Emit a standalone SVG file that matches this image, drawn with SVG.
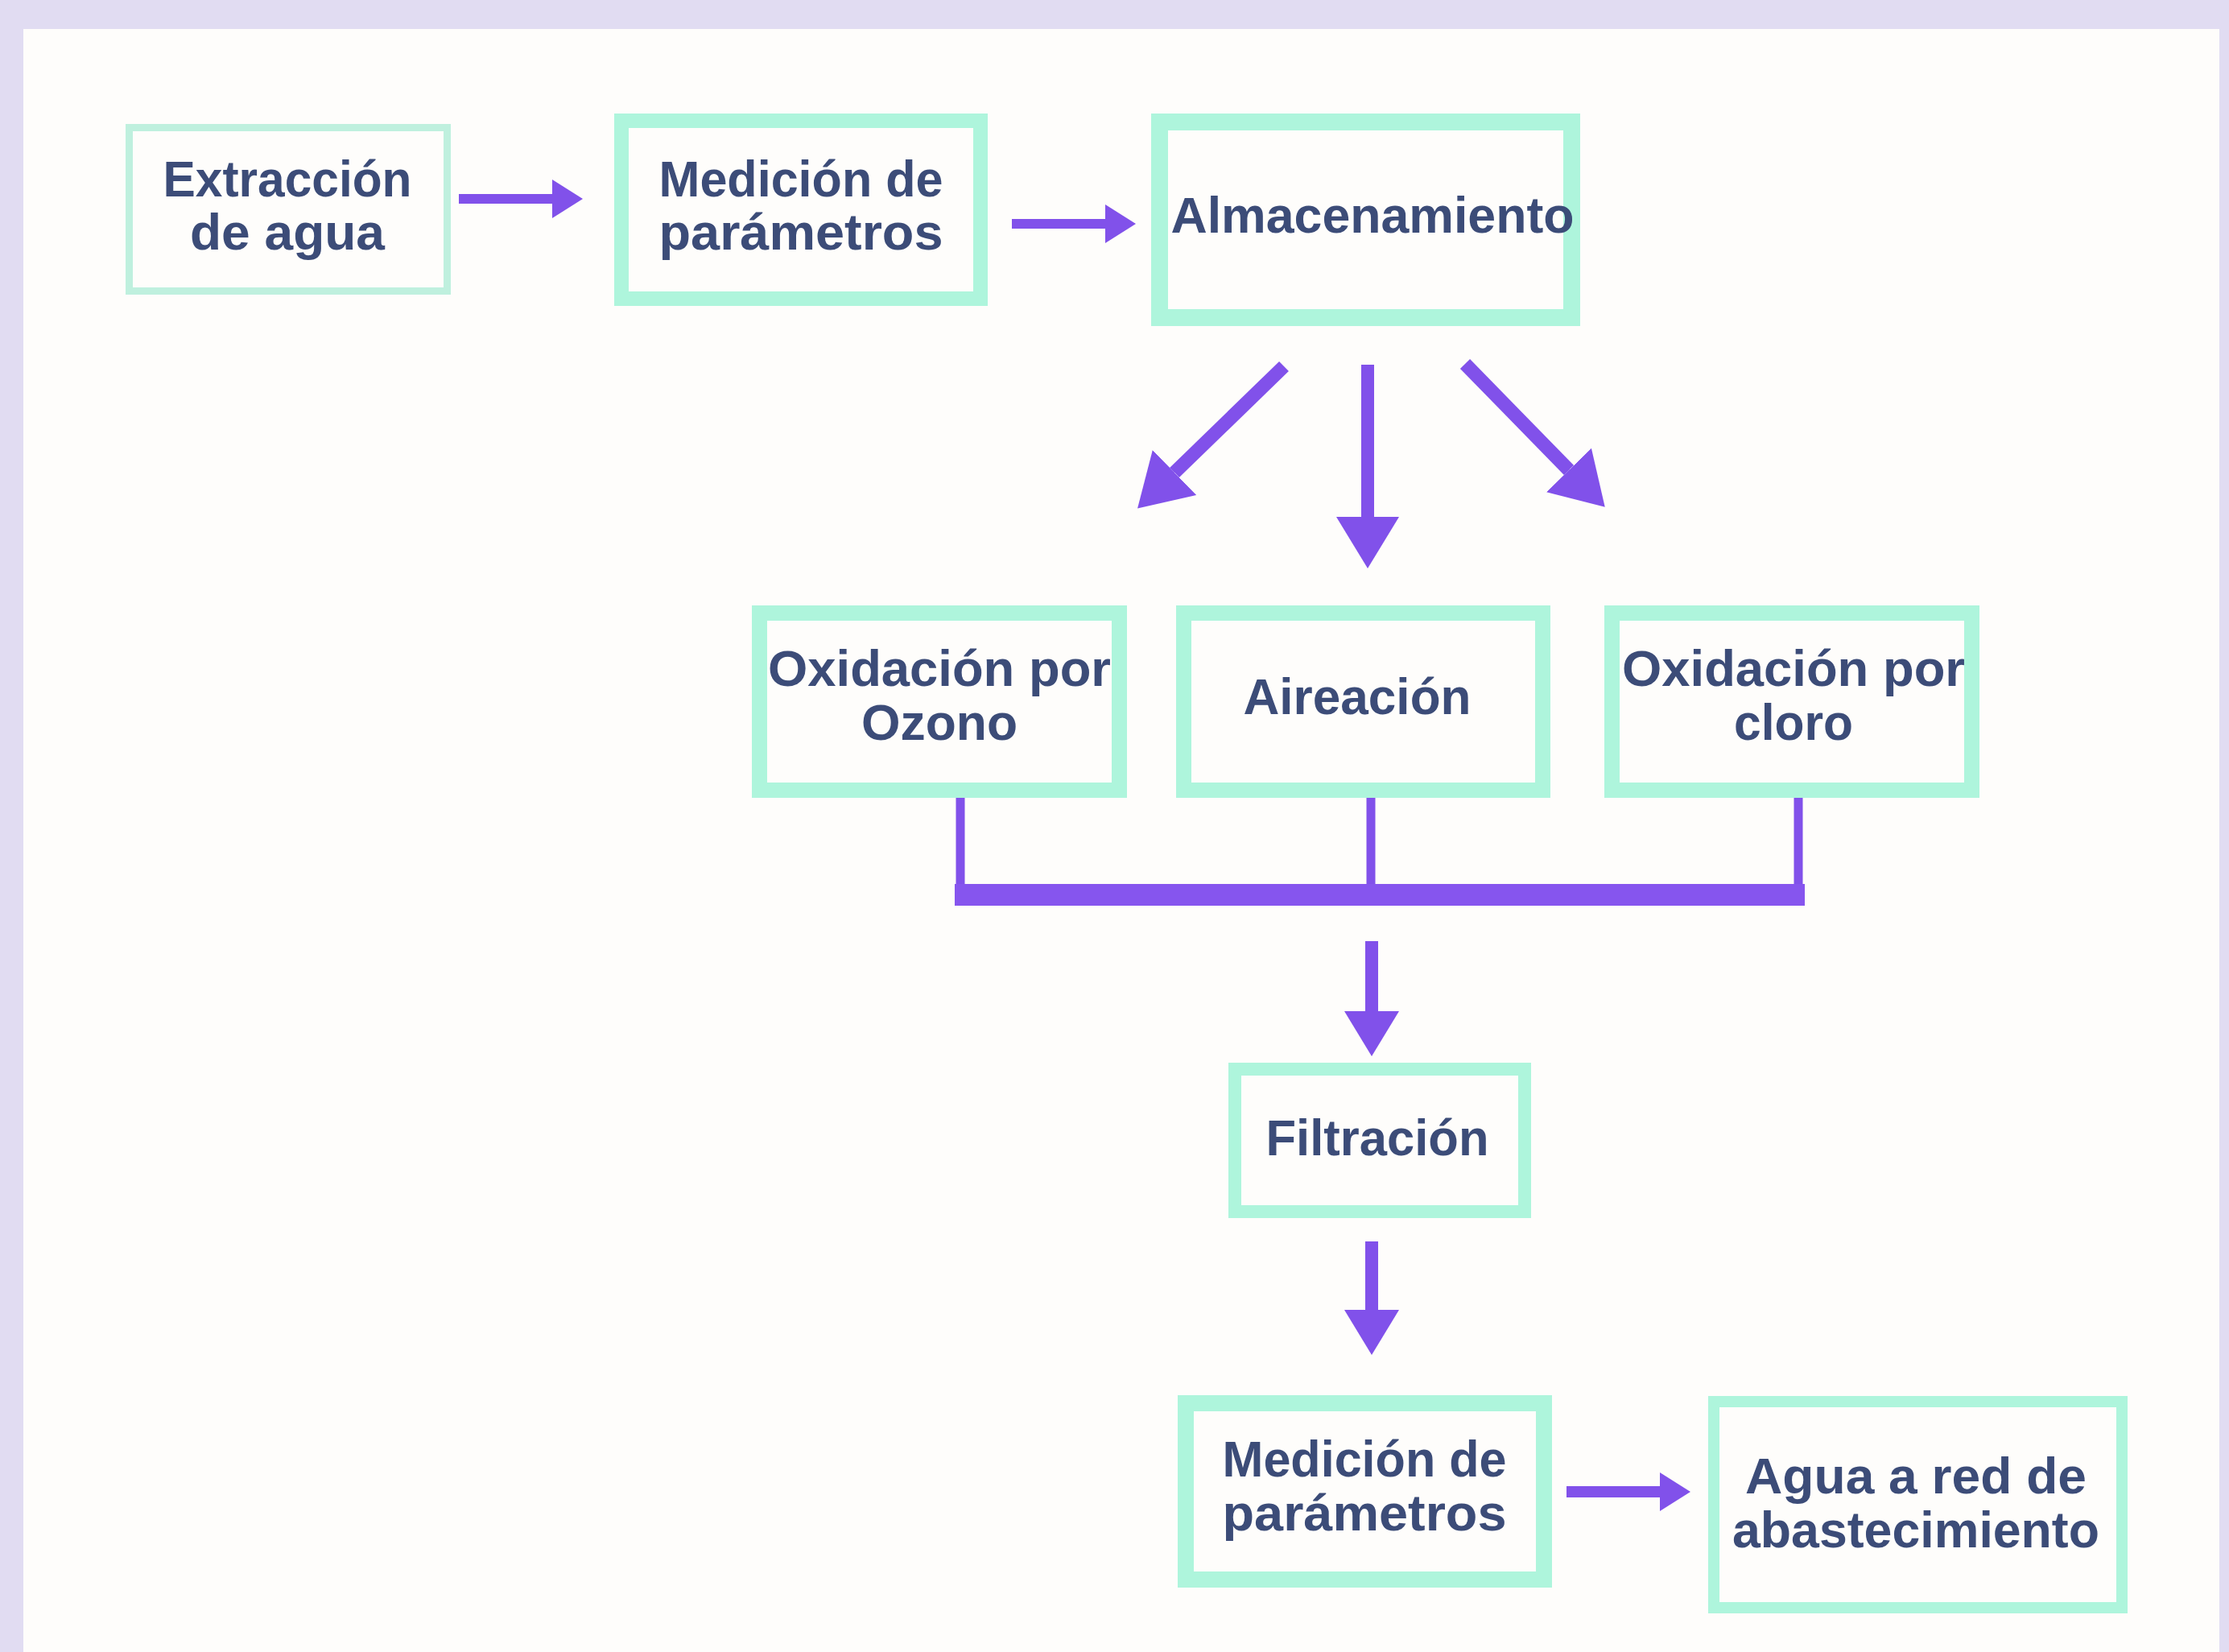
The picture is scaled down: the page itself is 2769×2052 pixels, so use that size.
<svg xmlns="http://www.w3.org/2000/svg" width="2769" height="2052" viewBox="0 0 2769 2052">
<defs>
<style>
.box{fill:#FEFDFB;stroke:#AEF5DC}
.lbl{font-family:"Liberation Sans",Arial,sans-serif;font-weight:700;font-size:63px;fill:#3C4C78;text-anchor:middle}
.arr{stroke:#8151EA;fill:none;stroke-linecap:butt}
.bar{fill:#8655EE}
</style>
<marker id="headL" markerUnits="userSpaceOnUse" viewBox="0 0 64 78" markerWidth="64" markerHeight="78" refX="0" refY="39" orient="auto"><path d="M0,0 L64,39 L0,78 Z" fill="#8151EA"/></marker>
<marker id="headM" markerUnits="userSpaceOnUse" viewBox="0 0 56 68" markerWidth="56" markerHeight="68" refX="0" refY="34" orient="auto"><path d="M0,0 L56,34 L0,68 Z" fill="#8151EA"/></marker>
<marker id="headS" markerUnits="userSpaceOnUse" viewBox="0 0 38 48" markerWidth="38" markerHeight="48" refX="0" refY="24" orient="auto"><path d="M0,0 L38,24 L0,48 Z" fill="#8151EA"/></marker>
</defs>
<rect x="0" y="0" width="2769" height="2052" fill="#E1DCF2"/>
<rect x="29" y="36" width="2728" height="2016" fill="#FEFDFB"/>

<g id="connectors">
<line class="arr" x1="570" y1="247" x2="686" y2="247" stroke-width="12" marker-end="url(#headS)"/>
<line class="arr" x1="1257" y1="278" x2="1373" y2="278" stroke-width="12" marker-end="url(#headS)"/>
<line class="arr" x1="1595" y1="455" x2="1459" y2="587" stroke-width="17" marker-end="url(#headL)"/>
<line class="arr" x1="1699" y1="453" x2="1699" y2="642" stroke-width="16" marker-end="url(#headL)"/>
<line class="arr" x1="1820" y1="452" x2="1949" y2="584" stroke-width="17" marker-end="url(#headL)"/>
<line class="arr" x1="1193" y1="991" x2="1193" y2="1100" stroke-width="11"/>
<line class="arr" x1="1703" y1="991" x2="1703" y2="1100" stroke-width="11"/>
<line class="arr" x1="2234" y1="991" x2="2234" y2="1100" stroke-width="11"/>
<rect class="bar" x="1186" y="1098" width="1056" height="27"/>
<line class="arr" x1="1704" y1="1169" x2="1704" y2="1256" stroke-width="16" marker-end="url(#headM)"/>
<line class="arr" x1="1704" y1="1542" x2="1704" y2="1627" stroke-width="16" marker-end="url(#headM)"/>
<line class="arr" x1="1946" y1="1853" x2="2062" y2="1853" stroke-width="14" marker-end="url(#headS)"/>
</g>

<g id="n-extraccion">
<rect class="box" x="160.5" y="158.5" width="395" height="203" stroke-width="9" style="stroke:#BFF0DE"/>
<text class="lbl" x="357" y="244" textLength="309" lengthAdjust="spacingAndGlyphs">Extracción</text>
<text class="lbl" x="357" y="310" textLength="242" lengthAdjust="spacingAndGlyphs">de agua</text>
</g>
<g id="n-medicion1">
<rect class="box" x="772" y="150" width="446" height="221" stroke-width="18"/>
<text class="lbl" x="995" y="244" textLength="353" lengthAdjust="spacingAndGlyphs">Medición de</text>
<text class="lbl" x="995" y="310" textLength="353" lengthAdjust="spacingAndGlyphs">parámetros</text>
</g>
<g id="n-almacenamiento">
<rect class="box" x="1440.5" y="151.5" width="512" height="243" stroke-width="21"/>
<text class="lbl" x="1705" y="289" textLength="501" lengthAdjust="spacingAndGlyphs">Almacenamiento</text>
</g>
<g id="n-ozono">
<rect class="box" x="943.5" y="761.5" width="447" height="220" stroke-width="19"/>
<text class="lbl" x="1167" y="852" textLength="426" lengthAdjust="spacingAndGlyphs">Oxidación por</text>
<text class="lbl" x="1167" y="919" textLength="194" lengthAdjust="spacingAndGlyphs">Ozono</text>
</g>
<g id="n-aireacion">
<rect class="box" x="1470.5" y="761.5" width="446" height="220" stroke-width="19"/>
<text class="lbl" x="1686" y="887" textLength="283" lengthAdjust="spacingAndGlyphs">Aireación</text>
</g>
<g id="n-cloro">
<rect class="box" x="2002.5" y="761.5" width="447" height="220" stroke-width="19"/>
<text class="lbl" x="2228" y="852" textLength="426" lengthAdjust="spacingAndGlyphs">Oxidación por</text>
<text class="lbl" x="2228" y="919" textLength="148" lengthAdjust="spacingAndGlyphs">cloro</text>
</g>
<g id="n-filtracion">
<rect class="box" x="1534" y="1328" width="360" height="177" stroke-width="16"/>
<text class="lbl" x="1711" y="1435" textLength="277" lengthAdjust="spacingAndGlyphs">Filtración</text>
</g>
<g id="n-medicion2">
<rect class="box" x="1473" y="1743" width="445" height="219" stroke-width="20"/>
<text class="lbl" x="1695" y="1834" textLength="353" lengthAdjust="spacingAndGlyphs">Medición de</text>
<text class="lbl" x="1695" y="1901" textLength="353" lengthAdjust="spacingAndGlyphs">parámetros</text>
</g>
<g id="n-agua">
<rect class="box" x="2129" y="1741" width="507" height="256" stroke-width="14"/>
<text class="lbl" x="2380" y="1855" textLength="424" lengthAdjust="spacingAndGlyphs">Agua a red de</text>
<text class="lbl" x="2380" y="1922" textLength="456" lengthAdjust="spacingAndGlyphs">abastecimiento</text>
</g>
</svg>
